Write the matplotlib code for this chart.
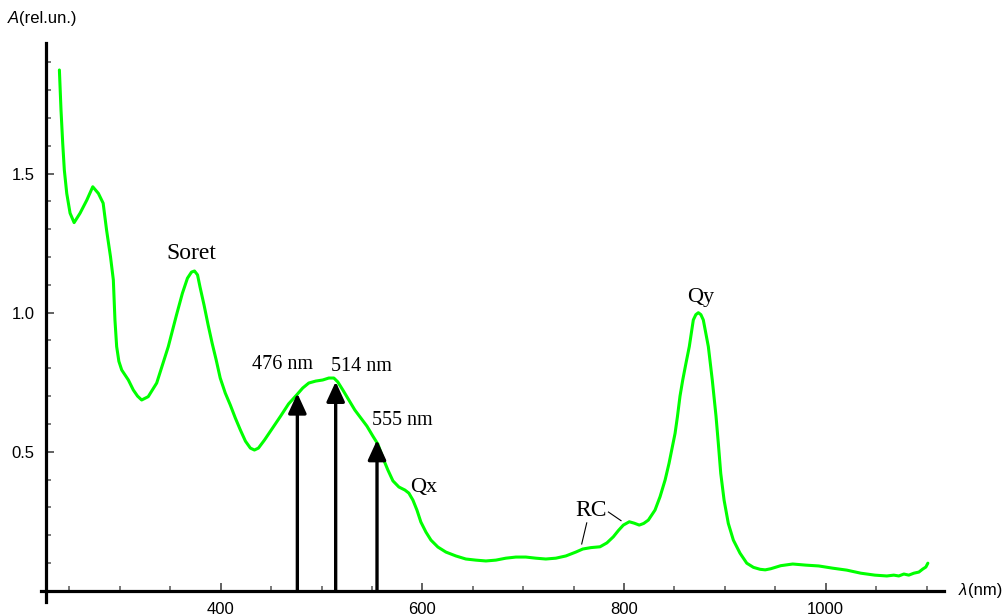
import matplotlib
matplotlib.use("Agg")
import matplotlib.pyplot as plt
from matplotlib.patches import FancyArrowPatch
from matplotlib.ticker import FixedLocator

# ---- data ----
wavelength = [240.0, 241.6, 243.3, 244.9, 247.3, 250.6, 254.6, 260.5, 267.2, 273.1,
              278.7, 283.4, 286.8, 290.7, 293.5, 295.1, 296.8, 299.0, 301.8, 308.4,
              313.3, 317.5, 321.6, 328.1, 336.5, 342.0, 348.0, 356.0, 362.0, 367.0,
              371.0, 374.0, 377.0, 379.5, 383.5, 387.5, 391.5, 395.5, 399.5, 404.5,
              409.5, 414.5, 419.5, 424.5, 429.4, 433.4, 437.4, 443.4, 451.4, 459.4,
              467.3, 475.3, 481.3, 487.3, 494.2, 501.2, 507.2, 512.2, 516.1, 521.1,
              527.1, 533.0, 539.0, 545.0, 550.9, 555.9, 560.9, 565.8, 570.8, 576.7,
              582.7, 586.6, 590.6, 594.6, 598.5, 603.5, 608.5, 615.4, 623.3, 633.2,
              643.1, 653.0, 663.0, 672.9, 682.8, 692.7, 702.6, 712.5, 722.4, 732.4,
              742.3, 752.2, 759.1, 767.1, 776.2, 783.0, 789.4, 794.5, 799.3, 805.2,
              810.0, 815.1, 819.5, 824.1, 830.7, 835.7, 840.7, 844.6, 847.9, 850.6,
              852.9, 855.5, 858.2, 861.5, 864.7, 868.7, 871.2, 873.7, 876.2, 878.6,
              883.6, 887.5, 891.2, 893.5, 895.9, 899.2, 903.4, 908.4, 915.0, 921.7,
              928.3, 934.9, 940.0, 945.5, 955.4, 967.3, 980.2, 993.1, 1007.0, 1020.9,
              1034.8, 1048.7, 1060.6, 1067.5, 1072.5, 1077.5, 1082.4, 1087.4, 1092.4, 1096.3,
              1099.3, 1101.3]
absorbance = [1.873, 1.729, 1.609, 1.513, 1.429, 1.358, 1.324, 1.358, 1.405, 1.453,
              1.429, 1.394, 1.297, 1.201, 1.118, 0.974, 0.878, 0.825, 0.794, 0.758,
              0.722, 0.700, 0.686, 0.698, 0.747, 0.810, 0.878, 0.990, 1.070, 1.124,
              1.146, 1.150, 1.136, 1.092, 1.027, 0.956, 0.890, 0.830, 0.765, 0.711,
              0.668, 0.621, 0.578, 0.538, 0.513, 0.506, 0.513, 0.542, 0.585, 0.628,
              0.672, 0.704, 0.729, 0.747, 0.754, 0.758, 0.765, 0.765, 0.751, 0.722,
              0.686, 0.650, 0.621, 0.592, 0.556, 0.527, 0.477, 0.434, 0.395, 0.373,
              0.362, 0.351, 0.326, 0.290, 0.247, 0.211, 0.182, 0.157, 0.139, 0.125,
              0.114, 0.110, 0.107, 0.110, 0.117, 0.121, 0.121, 0.117, 0.114, 0.117,
              0.125, 0.139, 0.150, 0.155, 0.158, 0.172, 0.194, 0.217, 0.236, 0.248,
              0.243, 0.236, 0.242, 0.254, 0.290, 0.338, 0.398, 0.458, 0.518, 0.566,
              0.625, 0.700, 0.758, 0.820, 0.878, 0.974, 0.993, 1.000, 0.993, 0.974,
              0.878, 0.758, 0.628, 0.530, 0.422, 0.326, 0.242, 0.182, 0.135, 0.099,
              0.084, 0.077, 0.075, 0.079, 0.090, 0.096, 0.092, 0.089, 0.081, 0.074,
              0.063, 0.056, 0.053, 0.056, 0.053, 0.060, 0.056, 0.063, 0.067, 0.078,
              0.085, 0.099]

arrow_nm = [476, 514, 555]
arrow_top = [0.710, 0.752, 0.542]
arrow_labels = ["476 nm", "514 nm", "555 nm"]

x_major = [400, 600, 800, 1000]
x_minor = [250, 300, 350, 450, 500, 550, 650, 700, 750, 850, 900, 950, 1050, 1100]
y_major = [0.5, 1.0, 1.5]
y_minor = [0.1, 0.2, 0.3, 0.4, 0.6, 0.7, 0.8, 0.9, 1.1, 1.2, 1.3, 1.4, 1.6, 1.7, 1.8, 1.9]

# ---- figure ----
fig = plt.figure(figsize=(10.06, 6.15), dpi=100)
ax = fig.add_axes([0, 0, 1, 1])
ax.set_xlim(181.1, 1178.8)
ax.set_ylim(-0.0874, 2.1248)

ax.plot(wavelength, absorbance, color="#00ff00", lw=2.2, zorder=2,
        solid_joinstyle="round", solid_capstyle="round")

for nm, top in zip(arrow_nm, arrow_top):
    arr = FancyArrowPatch((nm, 0), (nm, top),
                          arrowstyle="-|>,head_length=12,head_width=5.5",
                          mutation_scale=1, lw=2.4, color="black",
                          shrinkA=0, shrinkB=0, zorder=3)
    ax.add_patch(arr)

serif = ["Liberation Serif", "DejaVu Serif"]
lab_pos = [(461.5, 0.812), (539.5, 0.808), (580.5, 0.612)]
for (lx, ly), txt in zip(lab_pos, arrow_labels):
    ax.text(lx, ly, txt, family=serif, fontsize=14.5, ha="center", va="center")

ax.text(371.2, 1.212, "Soret", family=serif, fontsize=17, ha="center", va="center")
ax.text(601.7, 0.370, "Qx", family=serif, fontsize=16, ha="center", va="center")
ax.text(876.4, 1.055, "Qy", family=serif, fontsize=16, ha="center", va="center")
ax.text(767.3, 0.288, "RC", family=serif, fontsize=17, ha="center", va="center")
ax.plot([763.0, 758.0], [0.244, 0.168], color="black", lw=0.8)
ax.plot([784.5, 797.0], [0.283, 0.252], color="black", lw=0.8)

# ---- axes styling ----
for s in ["top", "right"]:
    ax.spines[s].set_visible(False)
ax.spines["left"].set_position(("data", 226.6))
ax.spines["left"].set_bounds(-0.04, 1.97)
ax.spines["bottom"].set_position(("data", 0))
ax.spines["bottom"].set_bounds(221.8, 1117.0)
for s in ["left", "bottom"]:
    ax.spines[s].set_linewidth(2.3)
    ax.spines[s].set_color("black")

ax.xaxis.set_major_locator(FixedLocator(x_major))
ax.xaxis.set_minor_locator(FixedLocator(x_minor))
ax.yaxis.set_major_locator(FixedLocator(y_major))
ax.yaxis.set_minor_locator(FixedLocator(y_minor))
ax.set_xticklabels([str(v) for v in x_major])
ax.set_yticklabels([f"{v:.1f}" for v in y_major])

ax.tick_params(which="major", direction="in", length=6, width=1.3, color="#555555",
               labelsize=12, pad=8)
ax.tick_params(which="minor", direction="in", length=3.5, width=1.1, color="#555555")
for lbl in ax.get_xticklabels() + ax.get_yticklabels():
    lbl.set_family(["Liberation Sans", "DejaVu Sans"])

ax.text(189.0, 2.06, "A", fontsize=12, style="italic", family=["Liberation Sans"],
        ha="left", va="center")
ax.text(199.5, 2.06, "(rel.un.)", fontsize=12, family=["Liberation Sans"],
        ha="left", va="center")
ax.text(1132.0, 0.0, "λ", fontsize=12, style="italic",
        family=["Liberation Sans", "DejaVu Sans"], ha="left", va="center")
ax.text(1141.0, 0.0, "(nm)", fontsize=12, family=["Liberation Sans"],
        ha="left", va="center")

fig.savefig("out.png", dpi=100)
